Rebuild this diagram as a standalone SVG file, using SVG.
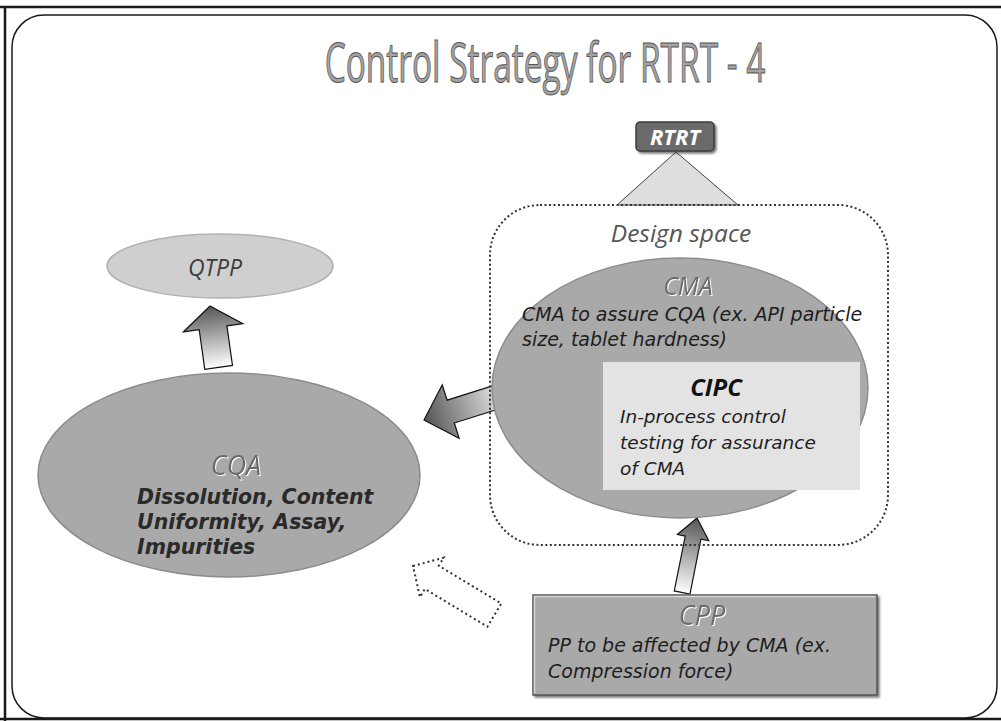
<svg xmlns="http://www.w3.org/2000/svg" width="1001" height="721" viewBox="0 0 1001 721">
<style>
.ln{fill:none;stroke:#1a1a1a;stroke-width:2.5}
.frame{fill:none;stroke:#1a1a1a;stroke-width:1.5}
.body{font-family:"DejaVu Sans","Open Sans",sans-serif;font-style:italic;font-size:19px;fill:#1e1e1e}
.lbl{font-family:"Open Sans","DejaVu Sans",sans-serif;font-style:italic;font-size:25px;fill:#6a6a6a;text-anchor:middle}
.dot{fill:none;stroke:#333;stroke-width:2;stroke-dasharray:2 2.5}
.arr{stroke:#111;stroke-width:1.2;fill:url(#ag)}
.oval{fill:#a9a9a9;stroke:#8c8c8c;stroke-width:1.5}
</style>
<defs>
<linearGradient id="ag" x1="0" y1="0" x2="0" y2="1">
<stop offset="0" stop-color="#555"/><stop offset="1" stop-color="#fff"/>
</linearGradient>
<filter id="emb" x="-10%" y="-10%" width="120%" height="130%">
<feDropShadow dx="1" dy="1" stdDeviation="0.4" flood-color="#fff"/>
</filter>
<filter id="sh" x="-10%" y="-10%" width="130%" height="140%">
<feDropShadow dx="2" dy="2" stdDeviation="1" flood-color="#444" flood-opacity="0.7"/>
</filter>
</defs>

<g id="frame">
<path class="ln" d="M0 7H1001M5 7V721M0 719H1001"/>
<rect class="frame" x="12" y="15" width="985" height="703" rx="32"/>
</g>

<g id="title">
<text transform="translate(545 82) scale(0.62 1)" x="0" y="0" text-anchor="middle" font-family="Open Sans, DejaVu Sans, sans-serif" font-size="54" fill="#a3a3a3" stroke="#555" stroke-width="1">Control Strategy for RTRT - 4</text>
</g>

<g id="connectors">
<polygon points="676,152 617,205 738,205" fill="#dedede" stroke="#444" stroke-width="1"/>
<!-- CQA -> QTPP -->
<path class="arr" transform="translate(210,306) rotate(-8)" d="M0 0L30 22H14V62H-14V22H-30Z"/>
<!-- CMA -> CQA -->
<path class="arr" transform="translate(424,420) rotate(-107.5)" d="M0 0L28 28H12V96H-12V28H-28Z"/>
<!-- CPP -> CMA -->
<path class="arr" transform="translate(697,518) rotate(11.3)" d="M0 0L16 20H8V76H-8V20H-16Z"/>
<!-- dotted hollow arrow -->
<path transform="translate(413,566) rotate(-58.9)" d="M0 0L23 22H13.5V95H-13.5V22H-23Z" fill="none" stroke="#333" stroke-width="2" stroke-dasharray="2 3"/>
</g>

<g id="rtrt">
<rect x="636" y="122" width="78" height="29" rx="4" fill="#6b6b6b" stroke="#3c3c3c" stroke-width="1.5" filter="url(#sh)"/>
<text x="675" y="145" text-anchor="middle" font-family="Open Sans, DejaVu Sans, sans-serif" font-weight="bold" font-style="italic" font-size="22" fill="#fff">RTRT</text>
</g>

<g id="design-space">
<rect class="dot" x="490" y="205" width="398" height="340" rx="50"/>
<text x="681" y="242" text-anchor="middle" font-family="Open Sans, DejaVu Sans, sans-serif" font-style="italic" font-size="24.5" fill="#555">Design space</text>
</g>

<g id="cma">
<ellipse class="oval" cx="680" cy="388" rx="188" ry="130"/>
<text class="lbl" x="688" y="295" filter="url(#emb)">CMA</text>
<text class="body" x="522" y="321">CMA to assure CQA (ex. API particle</text>
<text class="body" x="522" y="346">size, tablet hardness)</text>
</g>

<g id="cipc">
<rect x="603" y="362" width="257" height="128" fill="#e3e3e3"/>
<text x="716" y="396" text-anchor="middle" font-family="Open Sans, DejaVu Sans, sans-serif" font-weight="bold" font-style="italic" font-size="24" fill="#111">CIPC</text>
<text class="body" x="620" y="423" style="font-size:18.5px">In-process control</text>
<text class="body" x="620" y="449" style="font-size:18.5px">testing for assurance</text>
<text class="body" x="620" y="475" style="font-size:18.5px">of CMA</text>
</g>

<g id="qtpp">
<ellipse cx="220" cy="266" rx="113" ry="32" fill="#cfcfcf" stroke="#b0b0b0" stroke-width="1.5"/>
<text class="lbl" x="215" y="276" style="fill:#3c3c3c;font-size:23px">QTPP</text>
</g>

<g id="cqa">
<ellipse class="oval" cx="229" cy="475" rx="191" ry="102"/>
<text class="lbl" x="236" y="475" style="font-size:27px" filter="url(#emb)">CQA</text>
<text class="body" x="137" y="504" style="font-size:20.5px;font-weight:bold;fill:#2a2a2a">Dissolution, Content</text>
<text class="body" x="137" y="529" style="font-size:20.5px;font-weight:bold;fill:#2a2a2a">Uniformity, Assay,</text>
<text class="body" x="137" y="554" style="font-size:20.5px;font-weight:bold;fill:#2a2a2a">Impurities</text>
</g>

<g id="cpp">
<rect x="533" y="595" width="344" height="100" fill="#a9a9a9" stroke="#555" stroke-width="1.5" filter="url(#sh)"/>
<path d="M534.5 693.5V596.5H875.5" fill="none" stroke="#d8d8d8" stroke-width="1.5"/>
<text class="lbl" x="702" y="625" style="font-size:27px" filter="url(#emb)">CPP</text>
<text class="body" x="548" y="652">PP to be affected by CMA (ex.</text>
<text class="body" x="548" y="678">Compression force)</text>
</g>
</svg>
